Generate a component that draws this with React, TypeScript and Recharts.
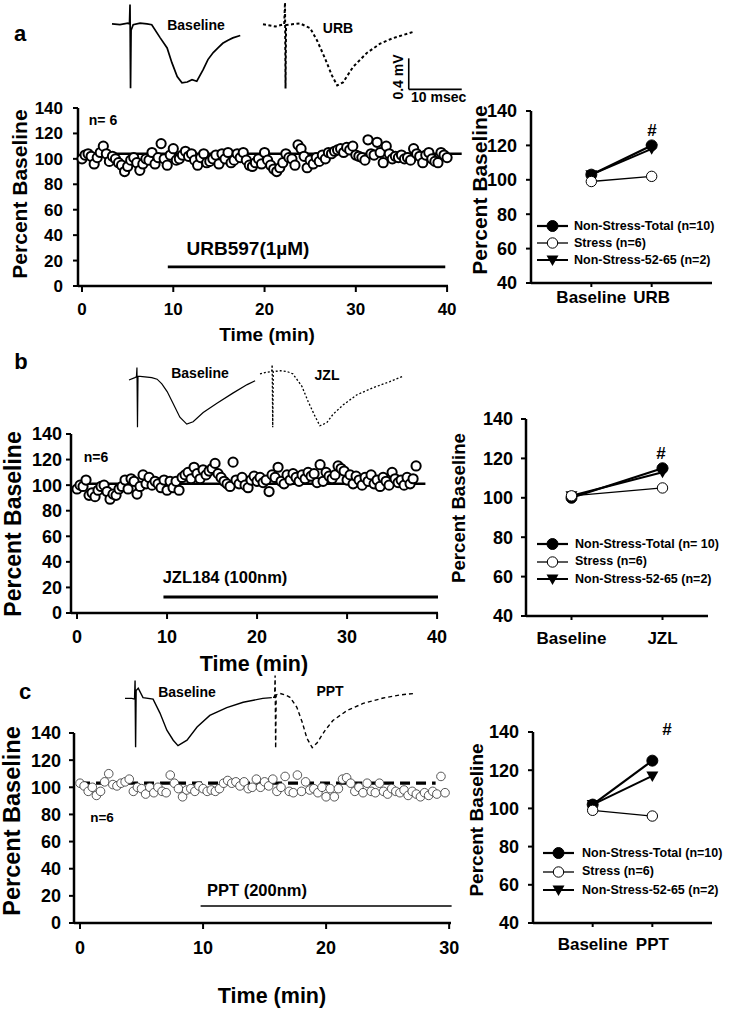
import React from 'react';
import { ScatterChart, Scatter, LineChart, Line, XAxis, YAxis, ReferenceLine, Legend } from 'recharts';

const FONT = '"Liberation Sans", Arial, Helvetica, sans-serif';
const SAMPLE_MIN = 1 / 3; // one sweep every 20 s

// ---- time courses (percent of baseline, one value per sweep) ----
const urbPct = [
  100, 103, 104, 102, 96, 101, 105, 110, 104, 98, 102, 100, 97, 95, 90, 94, 99, 101, 97, 91, 96,
  100, 99, 105, 96, 101, 112, 100, 95, 103, 108, 99, 100, 103, 106, 102, 104, 99, 95, 101, 104, 97,
  98, 100, 103, 96, 104, 100, 105, 97, 99, 104, 101, 105, 99, 95, 94, 97, 100, 96, 105, 99, 95,
  92, 90, 93, 97, 104, 101, 100, 95, 111, 108, 102, 93, 99, 96, 101, 98, 103, 100, 105, 104, 106,
  107, 108, 105, 109, 107, 110, 103, 102, 101, 99, 115, 104, 103, 113, 105, 97, 110, 104, 100, 102, 101,
  103, 100, 101, 99, 108, 104, 102, 97, 103, 105, 100, 98, 97, 105, 103, 101,
];
const jzlPct = [
  97, 100, 99, 104, 92, 94, 91, 96, 99, 100, 95, 89, 93, 92, 97, 99, 104, 97, 105, 103, 93,
  99, 108, 101, 106, 100, 103, 101, 98, 104, 96, 103, 98, 103, 96, 106, 108, 110, 105, 114, 109, 105,
  112, 108, 111, 113, 117, 109, 106, 103, 101, 99, 118, 104, 101, 106, 100, 98, 104, 107, 103, 106, 102,
  104, 95, 108, 106, 114, 103, 101, 108, 104, 109, 106, 103, 108, 105, 110, 107, 109, 102, 116, 103, 110,
  107, 105, 108, 115, 113, 111, 104, 108, 101, 107, 104, 100, 106, 103, 108, 101, 104, 99, 106, 103, 100,
  110, 105, 102, 104, 100, 106, 101, 105, 115,
];
const pptPct = [
  103, 101, 97, 100, 94, 97, 104, 110, 102, 101, 103, 104, 106, 97, 100, 99, 95, 100, 96, 100, 97,
  96, 109, 103, 99, 93, 98, 99, 97, 101, 99, 97, 98, 97, 99, 103, 105, 103, 104, 101, 104, 99,
  100, 106, 100, 104, 101, 106, 97, 100, 108, 97, 96, 109, 97, 104, 98, 99, 96, 100, 93, 99, 93,
  99, 106, 107, 103, 97, 100, 96, 103, 97, 96, 103, 97, 95, 99, 97, 96, 98, 94, 97, 95, 93,
  96, 94, 97, 95, 108, 96,
];

// ---- group summaries: [Baseline, drug] ----
const groupLabels = ['Non-Stress-Total (n=10)', 'Stress (n=6)', 'Non-Stress-52-65 (n=2)'];
const groupLabelsB = ['Non-Stress-Total (n= 10)', 'Stress (n=6)', 'Non-Stress-52-65 (n=2)'];
const urbTotal = [103, 120];
const urbStress = [99, 102];
const urb5265 = [103, 118];
const jzlTotal = [100, 115];
const jzlStress = [101, 105];
const jzl5265 = [101, 113];
const pptTotal = [102, 125];
const pptStress = [99, 96];
const ppt5265 = [102, 117];

// ---- example field potentials (ms, mV) ----
const trABaseMs = [0, 1.5, 3.0, 3.3, 3.4, 3.5, 3.6, 4.0, 5.3, 6.6, 7.5, 9.1, 10.4, 11.3, 12.3, 13.2, 14.2, 15.1, 16.0, 17.2, 18.1, 19.1, 20.0, 20.9, 21.9, 22.8, 24.2];
const trABaseMv = [0, -0.01, 0.01, 0, 0.25, -0.83, -0.08, -0.01, 0.01, 0, -0.01, -0.18, -0.31, -0.5, -0.68, -0.76, -0.75, -0.72, -0.74, -0.59, -0.46, -0.37, -0.31, -0.25, -0.21, -0.18, -0.15];
const trAUrbMs = [0, 2.3, 4.0, 4.15, 4.25, 4.35, 5.5, 7.0, 8.9, 10.2, 11.7, 13.0, 14.0, 15.1, 17.0, 19.6, 22.1, 24.5, 26.4, 28.3];
const trAUrbMv = [0, -0.03, 0, 0.28, -0.83, -0.01, 0, 0.01, -0.05, -0.21, -0.44, -0.66, -0.79, -0.75, -0.55, -0.37, -0.25, -0.18, -0.14, -0.1];
const trBBaseMs = [0, 1.1, 1.4, 1.5, 1.6, 1.7, 3.0, 4.3, 5.3, 6.2, 7.2, 8.3, 9.6, 10.9, 12.1, 14.0, 16.6, 19.6, 22.3, 23.8];
const trBBaseMv = [-0.04, -0.01, 0, 0.12, -0.65, 0.01, 0, -0.01, -0.03, -0.09, -0.19, -0.34, -0.52, -0.61, -0.58, -0.46, -0.34, -0.21, -0.1, -0.05];
const trBJzlMs = [0, 1.1, 2.2, 2.3, 2.4, 2.5, 3.8, 5.1, 6.2, 7.9, 9.1, 10.4, 11.3, 12.6, 13.8, 15.7, 18.3, 21.3, 24.5, 27.0];
const trBJzlMv = [-0.03, -0.01, 0, 0.09, -0.72, 0, 0.01, 0, -0.03, -0.19, -0.39, -0.58, -0.7, -0.66, -0.55, -0.43, -0.3, -0.21, -0.13, -0.06];
const trCBaseMs = [0, 1.3, 1.8, 1.9, 2.0, 2.1, 2.5, 3.4, 5.3, 6.6, 7.9, 9.1, 10.0, 11.7, 13.6, 16.0, 19.2, 22.3, 26.0, 27.7];
const trCBaseMv = [0, 0, -0.01, 0.23, -0.63, 0.1, 0.13, 0.01, -0.01, -0.19, -0.41, -0.54, -0.61, -0.54, -0.37, -0.22, -0.12, -0.05, 0, 0.01];
const trCPptMs = [0, 0.3, 0.4, 0.5, 0.6, 1.3, 2.3, 3.2, 4.5, 5.5, 6.4, 7.4, 8.3, 9.8, 11.3, 14.0, 17.0, 20.8, 24.0, 26.8];
const trCPptMv = [0, 0, 0.28, -0.66, 0.03, 0.05, 0.03, 0, -0.13, -0.32, -0.53, -0.65, -0.59, -0.43, -0.3, -0.17, -0.08, -0.01, 0.03, 0.05];

const PAD = { l: 60, t: 12, r: 24, b: 44 };
type Box = { left: number; top: number; right: number; bottom: number };

const frame = (b: Box) => ({
  style: { position: 'absolute' as const, left: b.left - PAD.l, top: b.top - PAD.t },
  width: b.right - b.left + PAD.l + PAD.r,
  height: b.bottom - b.top + PAD.t + PAD.b,
  margin: { top: PAD.t, right: PAD.r, bottom: 0, left: 0 },
});

const AX = { stroke: '#000', strokeWidth: 2.5 };
const TK = { stroke: '#000', strokeWidth: 2 };
const tickFont = (size: number) => ({ fill: '#000', fontSize: size, fontWeight: 700, fontFamily: FONT });

function Txt({ x, y, size, rot = 0, anchor = 'middle', children }: any) {
  const tx = anchor === 'start' ? '0' : anchor === 'end' ? '-100%' : '-50%';
  return (
    <div
      style={{
        position: 'absolute', left: x, top: y, fontSize: size, fontWeight: 700, lineHeight: 1,
        whiteSpace: 'nowrap', transform: `translate(${tx}, -50%) rotate(${rot}deg)`,
        transformOrigin: anchor === 'start' ? '0 50%' : '50% 50%',
      }}
    >
      {children}
    </div>
  );
}

function TimeCourse({ box, values, xDomain, xTicks, xTickMargin, yTickMargin, font, dot, children }: any) {
  const f = frame(box);
  const data = values.map((v: number, i: number) => ({ t: i * SAMPLE_MIN, v }));
  return (
    <div style={f.style}>
      <ScatterChart width={f.width} height={f.height} margin={f.margin}>
        <XAxis type="number" dataKey="t" domain={xDomain} ticks={xTicks} height={PAD.b} interval={0}
          axisLine={AX} tickLine={TK} tickSize={6} tickMargin={xTickMargin} tick={tickFont(font)} />
        <YAxis type="number" dataKey="v" domain={[0, 140]} ticks={[0, 20, 40, 60, 80, 100, 120, 140]} width={PAD.l} interval={0}
          axisLine={AX} tickLine={TK} tickSize={5} tickMargin={yTickMargin} tick={tickFont(font)} />
        <Scatter data={data} isAnimationActive={false}
          shape={(p: any) => <circle cx={p.cx} cy={p.cy} r={dot.r} fill="#fff" stroke={dot.stroke} strokeWidth={dot.w} />} />
        {children}
      </ScatterChart>
    </div>
  );
}

const markerFilled = (cx: number, cy: number, key?: any) => <circle key={key} cx={cx} cy={cy} r={5.5} fill="#000" stroke="#000" />;
const markerOpen = (cx: number, cy: number, key?: any) => <circle key={key} cx={cx} cy={cy} r={5.2} fill="#fff" stroke="#000" strokeWidth={1} />;
const markerTri = (cx: number, cy: number, key?: any) => (
  <path key={key} d={`M${cx - 6},${cy - 4.5}L${cx + 6},${cy - 4.5}L${cx},${cy + 6}Z`} fill="#000" />
);
const markers = [markerFilled, markerOpen, markerTri];
const lineWidths = [2.2, 1.3, 2];

function GroupLegend({ labels, gap, textGap }: any) {
  return (
    <div style={{ fontFamily: FONT, fontWeight: 700, fontSize: 12.5, color: '#000' }}>
      {labels.map((lab: string, i: number) => (
        <div key={lab} style={{ display: 'flex', alignItems: 'center', height: gap }}>
          <svg width={31} height={14} style={{ display: 'block' }}>
            <line x1={0} y1={7} x2={31} y2={7} stroke="#000" strokeWidth={lineWidths[i]} />
            {markers[i](15.5, 7)}
          </svg>
          <span style={{ marginLeft: textGap, lineHeight: 1 }}>{lab}</span>
        </div>
      ))}
    </div>
  );
}

function GroupChart({ box, cats, total, stress, sub, xDomain, xTickMargin, yTickMargin, legend, labels }: any) {
  const f = frame(box);
  const rows = cats.map((c: string, i: number) => ({ x: i + 1, cat: c, total: total[i], stress: stress[i], sub: sub[i] }));
  const lx = legend.x - f.style.left;
  const ly = legend.y - legend.gap / 2 - f.style.top;
  return (
    <div style={f.style}>
      <LineChart width={f.width} height={f.height} margin={f.margin} data={rows}>
        <XAxis type="number" dataKey="x" domain={xDomain} ticks={[1, 2]} tickFormatter={(v: number) => cats[v - 1]} interval={0}
          height={PAD.b} axisLine={AX} tickLine={TK} tickSize={4} tickMargin={xTickMargin} tick={tickFont(17)} />
        <YAxis type="number" domain={[40, 140]} ticks={[40, 60, 80, 100, 120, 140]} width={PAD.l} interval={0}
          axisLine={AX} tickLine={TK} tickSize={5} tickMargin={yTickMargin} tick={tickFont(18)} />
        <Line dataKey="total" stroke="#000" strokeWidth={2.2} isAnimationActive={false}
          dot={(p: any) => markerFilled(p.cx, p.cy, p.index)} activeDot={false} />
        <Line dataKey="sub" stroke="#000" strokeWidth={2} isAnimationActive={false}
          dot={(p: any) => markerTri(p.cx, p.cy, p.index)} activeDot={false} />
        <Line dataKey="stress" stroke="#000" strokeWidth={1.3} isAnimationActive={false}
          dot={(p: any) => markerOpen(p.cx, p.cy, p.index)} activeDot={false} />
        <Legend layout="horizontal" verticalAlign="middle" align="center"
          wrapperStyle={{ left: lx, top: ly, width: 'auto', height: 'auto' }}
          content={() => <GroupLegend labels={labels} gap={legend.gap} textGap={legend.textGap} />} />
      </LineChart>
    </div>
  );
}

const PX_MS = 5.3;
const PX_MV = 77.5;

function Trace({ ms, mv, x0, y0, xMax, yMin, yMax, width, dash, children }: any) {
  const m = 3;
  const data = ms.map((t: number, i: number) => ({ t, v: mv[i] }));
  return (
    <div style={{ position: 'absolute', left: x0 - m, top: y0 - yMax * PX_MV - m }}>
      <LineChart width={xMax * PX_MS + 2 * m} height={(yMax - yMin) * PX_MV + 2 * m} data={data}
        margin={{ top: m, right: m, bottom: m, left: m }}>
        <XAxis type="number" dataKey="t" domain={[0, xMax]} hide />
        <YAxis type="number" domain={[yMin, yMax]} hide />
        <Line dataKey="v" type="linear" stroke="#000" strokeWidth={width} strokeDasharray={dash}
          dot={false} activeDot={false} isAnimationActive={false} />
        {children}
      </LineChart>
    </div>
  );
}

export default function App() {
  return (
    <div style={{ position: 'absolute', left: 0, top: 0, width: 733, height: 1009, background: '#fff', fontFamily: FONT, color: '#000', overflow: 'hidden' }}>
      {/* ---------------- panel a ---------------- */}
      <Txt x={20} y={34} size={22}>a</Txt>
      <Trace ms={trABaseMs} mv={trABaseMv} x0={112} y0={24} xMax={24.5} yMin={-0.85} yMax={0.27} width={1.7} />
      <Trace ms={trAUrbMs} mv={trAUrbMv} x0={263} y0={24} xMax={38} yMin={-0.86} yMax={0.3} width={2} dash="3 2.5">
        <ReferenceLine segment={[{ x: 27.5, y: -0.44 }, { x: 27.5, y: -0.84 }]} stroke="#000" strokeWidth={1.6} ifOverflow="visible" />
        <ReferenceLine segment={[{ x: 27.5, y: -0.84 }, { x: 37.5, y: -0.84 }]} stroke="#000" strokeWidth={1.6} ifOverflow="visible" />
      </Trace>
      <Txt x={196} y={25} size={14}>Baseline</Txt>
      <Txt x={338} y={28} size={14}>URB</Txt>
      <Txt x={398} y={77} size={14} rot={-90}>0.4 mV</Txt>
      <Txt x={411} y={97} size={14} anchor="start">10 msec</Txt>

      <TimeCourse box={{ left: 78, right: 448, top: 108, bottom: 286 }} values={urbPct} xDomain={[-0.44, 40.1]}
        xTicks={[0, 10, 20, 30, 40]} xTickMargin={11} yTickMargin={10} font={17} dot={{ r: 4.6, stroke: '#000', w: 2 }}>
        <ReferenceLine segment={[{ x: 0, y: 104 }, { x: 41.6, y: 104 }]} stroke="#000" strokeWidth={2.5} ifOverflow="visible" />
        <ReferenceLine segment={[{ x: 9.4, y: 15 }, { x: 39.8, y: 15 }]} stroke="#000" strokeWidth={2.8} ifOverflow="visible" />
      </TimeCourse>
      <Txt x={103} y={120} size={14}>n= 6</Txt>
      <Txt x={248} y={248} size={19}>URB597(1µM)</Txt>
      <Txt x={19} y={194} size={21} rot={-90}>Percent Baseline</Txt>
      <Txt x={267} y={334} size={19}>Time (min)</Txt>

      <GroupChart box={{ left: 531, right: 712, top: 111, bottom: 283 }} cats={['Baseline', 'URB']}
        total={urbTotal} stress={urbStress} sub={urb5265} xDomain={[0, 3]} xTickMargin={4} yTickMargin={9}
        legend={{ x: 537, y: 226, gap: 17, textGap: 6 }} labels={groupLabels} />
      <Txt x={479} y={190} size={21} rot={-90}>Percent Baseline</Txt>
      <Txt x={652} y={130} size={17}>#</Txt>

      {/* ---------------- panel b ---------------- */}
      <Txt x={21} y={362} size={22}>b</Txt>
      <Trace ms={trBBaseMs} mv={trBBaseMv} x0={129} y0={377} xMax={24} yMin={-0.67} yMax={0.14} width={1.2} />
      <Trace ms={trBJzlMs} mv={trBJzlMv} x0={260} y0={372} xMax={27.3} yMin={-0.74} yMax={0.11} width={1.3} dash="2 2" />
      <Txt x={200} y={373} size={14}>Baseline</Txt>
      <Txt x={327} y={375} size={14}>JZL</Txt>

      <TimeCourse box={{ left: 71, right: 438, top: 434, bottom: 613 }} values={jzlPct} xDomain={[-0.67, 40.1]}
        xTicks={[0, 10, 20, 30, 40]} xTickMargin={11} yTickMargin={4} font={18} dot={{ r: 4.6, stroke: '#000', w: 2 }}>
        <ReferenceLine segment={[{ x: 0, y: 101 }, { x: 38.7, y: 101 }]} stroke="#000" strokeWidth={2.5} ifOverflow="visible" />
        <ReferenceLine segment={[{ x: 9.6, y: 12.5 }, { x: 40.1, y: 12.5 }]} stroke="#000" strokeWidth={2.8} ifOverflow="visible" />
      </TimeCourse>
      <Txt x={96} y={457} size={14}>n=6</Txt>
      <Txt x={225} y={577} size={16.5}>JZL184 (100nm)</Txt>
      <Txt x={13} y={524} size={23} rot={-90}>Percent Baseline</Txt>
      <Txt x={254} y={665} size={21.5}>Time (min)</Txt>

      <GroupChart box={{ left: 526, right: 708, top: 419, bottom: 616 }} cats={['Baseline', 'JZL']}
        total={jzlTotal} stress={jzlStress} sub={jzl5265} xDomain={[0.5, 2.5]} xTickMargin={12} yTickMargin={8}
        legend={{ x: 537, y: 544, gap: 17.5, textGap: 7 }} labels={groupLabelsB} />
      <Txt x={459} y={508} size={18.6} rot={-90}>Percent Baseline</Txt>
      <Txt x={661} y={453} size={17}>#</Txt>

      {/* ---------------- panel c ---------------- */}
      <Txt x={25} y={692} size={22}>c</Txt>
      <Trace ms={trCBaseMs} mv={trCBaseMv} x0={125} y0={698} xMax={28} yMin={-0.65} yMax={0.25} width={1.4} />
      <Trace ms={trCPptMs} mv={trCPptMv} x0={273} y0={697} xMax={27} yMin={-0.68} yMax={0.3} width={1.4} dash="4 3" />
      <Txt x={187} y={692} size={14}>Baseline</Txt>
      <Txt x={330} y={691} size={14}>PPT</Txt>

      <TimeCourse box={{ left: 74, right: 451, top: 733, bottom: 923 }} values={pptPct} xDomain={[-0.49, 30.15]}
        xTicks={[0, 10, 20, 30]} xTickMargin={12} yTickMargin={8} font={18} dot={{ r: 4.3, stroke: '#444', w: 0.9 }}>
        <ReferenceLine segment={[{ x: 0, y: 103 }, { x: 28.9, y: 103 }]} stroke="#000" strokeWidth={3.2} strokeDasharray="10 6" ifOverflow="visible" />
        <ReferenceLine segment={[{ x: 9.8, y: 12.5 }, { x: 30.2, y: 12.5 }]} stroke="#000" strokeWidth={1.6} ifOverflow="visible" />
      </TimeCourse>
      <Txt x={102} y={818} size={13.5}>n=6</Txt>
      <Txt x={257} y={890} size={16.5}>PPT (200nm)</Txt>
      <Txt x={13} y={821} size={23.5} rot={-90}>Percent Baseline</Txt>
      <Txt x={272} y={997} size={21.5}>Time (min)</Txt>

      <GroupChart box={{ left: 533, right: 712, top: 732, bottom: 923 }} cats={['Baseline', 'PPT']}
        total={pptTotal} stress={pptStress} sub={ppt5265} xDomain={[0, 3]} xTickMargin={11} yTickMargin={9}
        legend={{ x: 543, y: 853, gap: 18.5, textGap: 8 }} labels={groupLabels} />
      <Txt x={476} y={820} size={19} rot={-90}>Percent Baseline</Txt>
      <Txt x={667} y={729} size={17}>#</Txt>
    </div>
  );
}
